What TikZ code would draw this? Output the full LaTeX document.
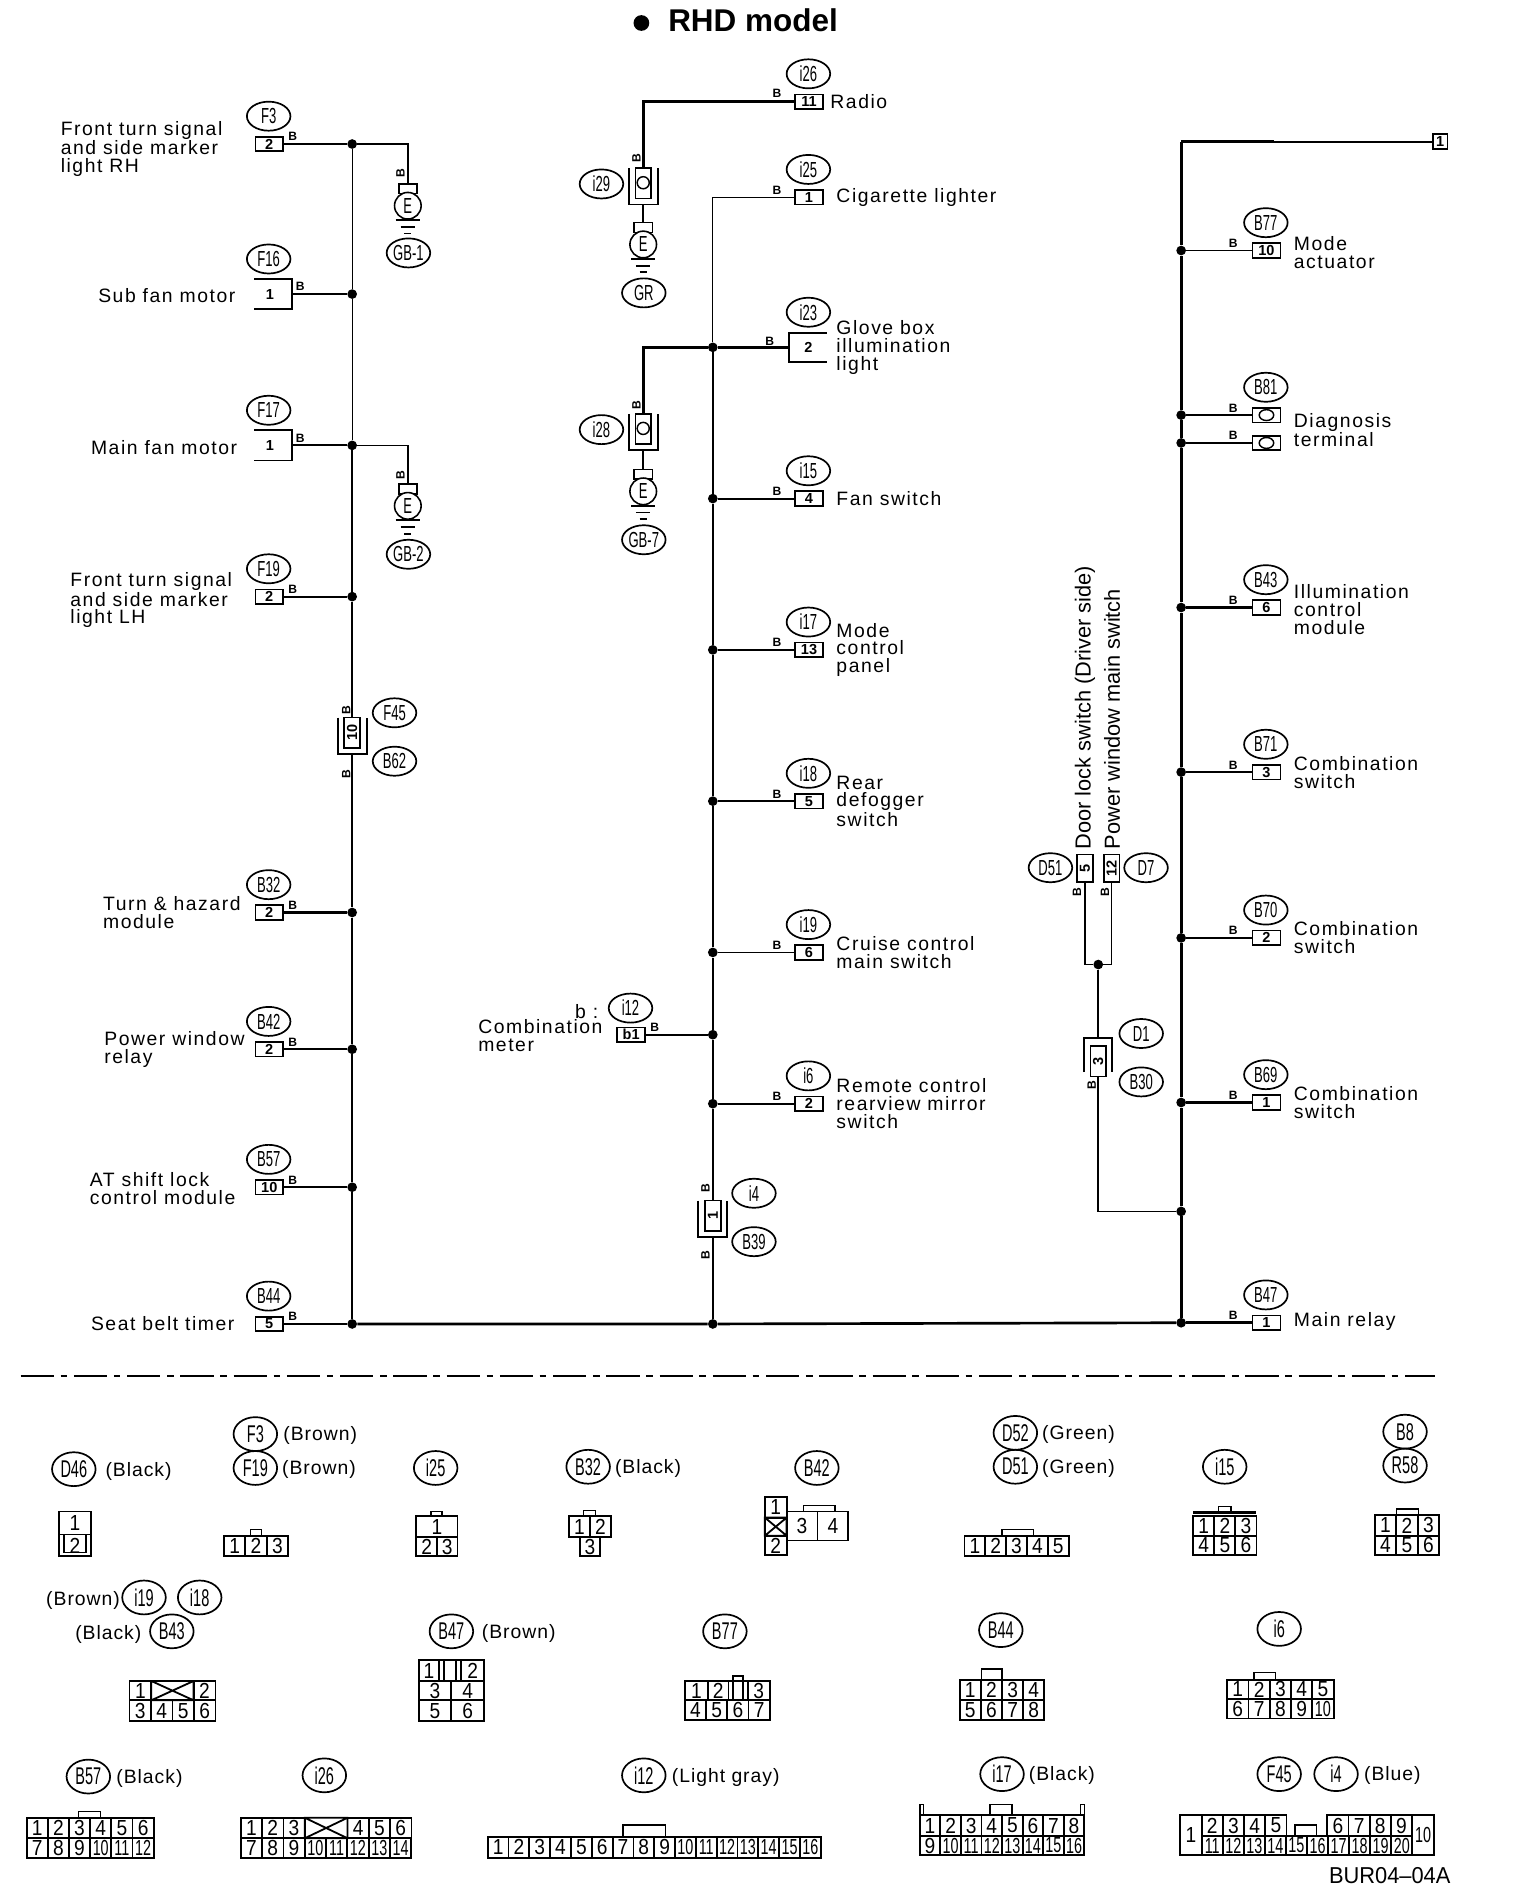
\documentclass[tikz,border=0pt]{standalone}
\usepackage{fontspec}
\usepackage{graphicx}
\usetikzlibrary{shapes.geometric}
\setmainfont{Liberation Sans}
\newfontfamily\lfam[LetterSpace=8]{Liberation Sans}
\newfontfamily\pfam[LetterSpace=5]{Liberation Sans}
\newcommand\lf{\lfam\fontsize{16}{14.7}\selectfont}
\newcommand\pf{\pfam\fontsize{16}{16}\selectfont}
\newcommand\nr[1]{\scalebox{.6}[1]{#1}}
\newcommand\dg[1]{\sbox0{#1}\ifdim\wd0>13pt \scalebox{.66}[1]{#1}\else\scalebox{.88}[1]{#1}\fi}
\newcounter{cc}
\newcounter{bb}
\tikzset{
  wb/.style={line width=2.6pt},
  wh/.style={line width=2.2pt},
  w/.style={line width=1.5pt},
  wt/.style={line width=1.1pt},
  dot/.style={circle,fill=black,inner sep=0pt,minimum size=8pt},
  oval/.style={ellipse,draw,line width=1.4pt,inner sep=0pt,minimum width=36pt,minimum height=24pt,font=\fontsize{18}{18}\selectfont},
  ovalc/.style={oval,minimum width=36pt,minimum height=28pt,font=\fontsize{20}{20}\selectfont},
  cbox/.style={rectangle,draw,line width=1.4pt,fill=white,inner sep=0pt,minimum width=23pt,minimum height=12pt,font=\bfseries\fontsize{12}{12}\selectfont},
  ibox/.style={rectangle,draw,line width=1.4pt,fill=white,inner sep=0pt,minimum width=13pt,minimum height=25pt,font=\bfseries\fontsize{12}{12}\selectfont},
  btxt/.style={inner sep=0pt,font=\bfseries\fontsize{12}{12}\selectfont},
  blab/.style={inner sep=0pt,font=\bfseries\fontsize{10}{10}\selectfont},
  lab/.style={inner sep=0pt,anchor=west,align=left,font=\lf,yshift=-1pt},
  plab/.style={inner sep=0pt,anchor=west,font=\pf,yshift=-1.5pt},
  rlab/.style={inner sep=0pt,anchor=west,rotate=90,font=\fontsize{18}{18}\selectfont},
  cellb/.style={line width=1.5pt},
  celltxt/.style={inner sep=0pt,font=\fontsize{18}{18}\selectfont},
}
% B wire-colour letter
\newcommand\Bl[2][0]{\stepcounter{bb}\node[blab,rotate=#1] (bl\thebb) at (#2) {B};}
% branch on left spine
\newcommand\brL[4]{%
  \node[dot] (d#1) at (291,#4) {};
  \node[cbox] (b#1) at (222.5,#4) {#3};
  \node[oval] (o#1) at (222,#4-23) {\nr{#2}};
  \Bl{242,#4-6}
  \draw[w] (d#1) -- (b#1);}
% open box on left spine
\newcommand\brLo[4]{%
  \node[dot] (d#1) at (291,#4) {};
  \coordinate (b#1) at (241,#4);
  \node[btxt] (bt#1) at (223,#4) {#3};
  \node[oval] (o#1) at (222,#4-29) {\nr{#2}};
  \Bl{248,#4-6}
  \draw[cellb] (210,#4-12.5) -- (241,#4-12.5) -- (241,#4+12.5) -- (210,#4+12.5);
  \draw[w] (d#1) -- (b#1);}
% branch on middle spine
\newcommand\brM[4]{%
  \node[dot] (d#1) at (589,#4) {};
  \node[cbox] (b#1) at (668.5,#4) {#3};
  \node[oval] (o#1) at (668,#4-23) {\nr{#2}};
  \Bl{642,#4-6}
  \draw[w] (d#1) -- (b#1);}
% branch on right spine
\newcommand\brR[3]{%
  \node[dot] (d#1) at (976,#3) {};
  \node[cbox] (b#1) at (1046.5,#3) {#2};
  \Bl{1019,#3-6}
  \draw[w] (d#1) -- (b#1);}
% in-line connector: U bracket open at top
\newcommand\inl[4]{%
  \node[ibox] (c#1) at (#2,#3+12.5) {\rotatebox{90}{#4}};
  \coordinate (u#1) at (#2,#3+30);
  \draw[cellb] (#2-12,#3) -- (#2-12,#3+30) -- (#2+12,#3+30) -- (#2+12,#3);}
% earth symbol
\newcommand\gnd[5]{%
  \node[rectangle,draw,line width=1.3pt,fill=white,inner sep=0pt,minimum width=15pt,minimum height=8pt] (t#1) at (#2,#3-14) {};
  \node[circle,draw,line width=1.3pt,fill=white,inner sep=0pt,minimum size=22pt,font=\fontsize{18}{18}\selectfont] (e#1) at (#2,#3) {\nr{E}};
  \draw[cellb] (#2-10,#3+12) -- (#2+10,#3+12) (#2-6,#3+17.5) -- (#2+6,#3+17.5) (#2-3,#3+23) -- (#2+3,#3+23);
  \node[oval] (g#1) at (#2+.5,#5) {\nr{#4}};}
% connector cells
\newcommand\cell[5]{\stepcounter{cc}\draw[cellb] (#1,#2) rectangle (#3,#4);
  \node[celltxt] (c\thecc) at ({(#1+#3)/2},{(#2+#4)/2}) {\dg{#5}};}
\newcommand\xcell[4]{\draw[cellb] (#1,#2) rectangle (#3,#4) (#1,#2) -- (#3,#4) (#1,#4) -- (#3,#2);}
\newcommand\cellrow[5]{\foreach \t [count=\i from 0] in {#5} {\cell{#1+\i*#4}{#2}{#1+\i*#4+#4}{#3}{\t}}}
\newcommand\tab[4]{\draw[line width=1.3pt] (#1,#3) -- (#1,#4) -- (#2,#4) -- (#2,#3);}
\newcommand\ol[3]{\node[ovalc] (lo#1) at (#2) {\nr{#3}};}
\begin{document}
\begin{tikzpicture}[x=1pt,y=-1pt]
\useasboundingbox (0,0) rectangle (1256,1566.7);
\fill[white] (0,0) rectangle (1256,1566.7);
% title
\node[circle,fill=black,inner sep=0pt,minimum size=13pt] (tdot) at (530,19) {};
\node[inner sep=0pt,anchor=west,font=\bfseries\fontsize{26}{26}\selectfont] (title) at (552,16.5) {RHD model};

% LEFT COLUMN
\brL{F3}{F3}{2}{119}
\brLo{F16}{F16}{1}{243}
\brLo{F17}{F17}{1}{368}
\brL{F19}{F19}{2}{493}
\brL{B32}{B32}{2}{754}
\brL{B42}{B42}{2}{867}
\brL{B57}{B57}{10}{981}
\brL{B44}{B44}{5}{1094}
\draw[wh] (dB32) -- (bB32);
\node[lab] (tF3) at (50,122) {Front turn signal\\and side marker\\light RH};
\node[lab] (tF16) at (81,243) {Sub fan motor};
\node[lab] (tF17) at (75,369) {Main fan motor};
\node[lab] (tF19) at (58,495) {Front turn signal\\and side marker\\light LH};
\node[lab] (tB32) at (85,753) {Turn \& hazard\\module};
\node[lab] (tB42) at (86,866) {Power window\\relay};
\node[lab] (tB57) at (74,981) {AT shift lock\\control module};
\node[lab] (tB44) at (75,1093) {Seat belt timer};
\inl{F45}{291}{593}{10}
\Bl[90]{286,587}
\Bl[90]{286,640}
\node[oval] (oF45) at (326,589) {\nr{F45}};
\node[oval] (oB62) at (326,629) {\nr{B62}};
\draw[wt] (dF3) -- (dF16) -- (dF17);
\draw[w] (dF17) -- (dF19) -- (cF45.north);
\draw[w] (uF45) -- (dB32) -- (dB42) -- (dB57) -- (dB44);
% earths GB-1, GB-2
\gnd{1}{337}{170}{GB-1}{209}
\gnd{2}{337}{418}{GB-2}{458}
\Bl[90]{331,143}
\Bl[90]{331,393}
\draw[w] (dF3) -| (t1.north);
\draw[wt] (dF17) -| (t2.north);

% MIDDLE COLUMN
\coordinate (ci25) at (589,163);
\node[cbox] (bi25) at (668.5,163) {1};
\node[oval] (oi25) at (668,140) {\nr{i25}};
\Bl{642,157}
\draw[wt] (ci25) -- (bi25);
\node[dot] (di23) at (589,287) {};
\node[btxt] (bti23) at (668,287) {2};
\coordinate (bi23) at (652,287);
\node[oval] (oi23) at (668,258) {\nr{i23}};
\draw[cellb] (683,275) -- (652,275) -- (652,299) -- (683,299);
\draw[wh] (di23) -- (bi23);
\Bl{636,282}
\brM{i15}{i15}{4}{412}
\brM{i17}{i17}{13}{537}
\brM{i18}{i18}{5}{662}
\brM{i19}{i19}{6}{787}
\brM{i6}{i6}{2}{912}
\draw[wh] (di17) -- (bi17);
\node[dot] (di12) at (589,855) {};
\node[dot] (dMB) at (589,1094) {};
\node[cbox] (bi12) at (521.5,855) {b1};
\node[oval] (oi12) at (521,833) {\nr{i12}};
\Bl{541,849}
\draw[w] (di12) -- (bi12);
\node[plab,font=\lf] (tb) at (475,834) {b :};
\node[lab] (ti12) at (395,855) {Combination\\meter};
\inl{i4}{589}{992}{1}
\Bl[90]{583,982}
\Bl[90]{583,1037}
\node[oval] (oi4) at (623,986) {\nr{i4}};
\node[oval] (oB39) at (623,1026) {\nr{B39}};
\draw[wt] (ci25) -- (di23);
\draw[w] (di23) -- (di15) -- (di17) -- (di18) -- (di19) -- (di12) -- (di6) -- (ci4.north);
\draw[w] (ui4) -- (dMB);
\node[lab] (ti25) at (691,162) {Cigarette lighter};
\node[lab] (ti23) at (691,286) {Glove box\\illumination\\light};
\node[lab] (ti15) at (691,411) {Fan switch};
\node[lab] (ti17) at (691,536) {Mode\\control\\panel};
\node[lab] (ti18) at (691,661) {Rear\\defogger\\switch};
\node[lab] (ti19) at (691,786) {Cruise control\\main switch};
\node[lab] (ti6) at (691,911) {Remote control\\rearview mirror\\switch};
% i26 / i29 / GR
\node[cbox] (bi26) at (668.5,84) {11};
\node[oval] (oi26) at (668,61) {\nr{i26}};
\Bl{642,77}
\node[lab] (ti26) at (686,83) {Radio};
\inl{i29}{531.5}{139}{}
\draw[line width=1.2pt] (531.5,151) ellipse (5 and 5);
\Bl[90]{526,131}
\node[oval] (oi29) at (497,152) {\nr{i29}};
\gnd{3}{531.5}{202}{GR}{242}
\draw[wh] (bi26) -| (ci29.north);
\draw[w] (ui29) -- (t3.north);
% i28 / GB-7
\inl{i28}{531.5}{342}{}
\draw[line width=1.2pt] (531.5,354) ellipse (5 and 5);
\Bl[90]{526,335}
\node[oval] (oi28) at (497,355) {\nr{i28}};
\gnd{4}{531.5}{406}{GB-7}{446}
\draw[wh] (di23) -| (ci28.north);
\draw[w] (ui28) -- (t4.north);

% RIGHT COLUMN
\brR{B77}{10}{207}
\brR{B81}{}{343}
\brR{B81b}{}{366}
\brR{B43}{6}{502}
\brR{B71}{3}{638}
\brR{B70}{2}{775}
\brR{B69}{1}{911}
\brR{B47}{1}{1093}
\draw[wh] (dB43) -- (bB43) (dB69) -- (bB69) (dB47) -- (bB47);
\node[oval] (oB77) at (1046,184) {\nr{B77}};
\node[oval] (oB81) at (1046,320) {\nr{B81}};
\node[oval] (oB43) at (1046,479) {\nr{B43}};
\node[oval] (oB71) at (1046,615) {\nr{B71}};
\node[oval] (oB70) at (1046,752) {\nr{B70}};
\node[oval] (oB69) at (1046,888) {\nr{B69}};
\node[oval] (oB47) at (1046,1070) {\nr{B47}};
\draw[line width=1.2pt] (1046.5,343) ellipse (6 and 4.5) (1046.5,366) ellipse (6 and 4.5);
\node[cbox,minimum width=12pt] (b1) at (1190,117) {1};
\coordinate (ctop) at (976,117);
\coordinate (cthick) at (1053,117);
\node[dot] (dRB) at (976,1001) {};
\draw[wb] (ctop) -- (dB77) -- (dB81) -- (dB81b) -- (dB43) -- (dB71) -- (dB70) -- (dB69) -- (dRB) -- (dB47);
\draw[w] (ctop) -- (b1);
\draw[wh] (ctop) -- (cthick);
\node[lab] (tB77) at (1069,207.5) {Mode\\actuator};
\node[lab] (tB81) at (1069,354.5) {Diagnosis\\terminal};
\node[lab] (tB43) at (1069,502.5) {Illumination\\control\\module};
\node[lab] (tB71) at (1069,637.5) {Combination\\switch};
\node[lab] (tB70) at (1069,774) {Combination\\switch};
\node[lab] (tB69) at (1069,910) {Combination\\switch};
\node[lab] (tB47) at (1069,1091) {Main relay};
% bus
\draw[wh] (dB44) -- (dMB) -- (dB47);

% door lock / power window
\node[ibox,minimum width=13pt,minimum height=23pt] (c5) at (896.5,717.5) {\rotatebox{90}{5}};
\node[ibox,minimum width=13pt,minimum height=23pt] (c7) at (918.5,717.5) {\rotatebox{90}{12}};
\node[oval] (oD51) at (868,717) {\nr{D51}};
\node[oval] (oD7) at (947,717) {\nr{D7}};
\node[rlab] (tdl) at (896.5,702) {Door lock switch (Driver side)};
\node[rlab] (tpw) at (919,702) {Power window main switch};
\Bl[90]{890,737}
\Bl[90]{913,737}
\node[dot] (dj) at (907.5,797) {};
\draw[w] (c5.south) |- (dj);
\draw[w] (c7.south) |- (dj);
\node[ibox,minimum width=13pt,minimum height=25pt] (cD1) at (907.5,877) {\rotatebox{90}{3}};
\draw[cellb] (896,886) -- (896,858) -- (919,858) -- (919,886);
\coordinate (uD1) at (907.5,858);
\draw[w] (dj) -- (uD1);
\Bl[90]{902,897}
\node[oval] (oD1) at (943,854) {\nr{D1}};
\node[oval] (oB30) at (943,894) {\nr{B30}};
\draw[w] (cD1.south) |- (dRB);

% divider
\coordinate (da) at (17,1137);
\coordinate (db) at (1186,1137);
\draw[line width=1.3pt,dash pattern=on 27.5pt off 5.5pt on 5.5pt off 5.5pt] (da) -- (db);

% CONNECTOR LEGEND, ROW 1
\ol{1}{61,1214}{D46}\node[plab] (p1) at (87,1214) {(Black)};
\ol{2}{211,1185}{F3}\node[plab] (p2) at (234,1185) {(Brown)};
\ol{3}{211,1213}{F19}\node[plab] (p3) at (233,1213) {(Brown)};
\ol{4}{360,1213}{i25}
\ol{5}{486,1212}{B32}\node[plab] (p5) at (508,1212) {(Black)};
\ol{6}{675,1213}{B42}
\ol{7}{839,1184}{D52}\node[plab] (p7) at (861,1184) {(Green)};
\ol{8}{839,1212}{D51}\node[plab] (p8) at (861,1212) {(Green)};
\ol{9}{1012,1212}{i15}
\ol{10}{1161,1183}{B8}
\ol{11}{1161,1211}{R58}
% D46
\cell{49}{1249}{75}{1268}{1}
\cell{49}{1268}{75}{1286}{2}
\draw[line width=1.1pt] (53,1268) -- (53,1283) -- (71,1283) -- (71,1268);
% F3
\cellrow{185}{1269}{1286}{17.7}{1,2,3}
\tab{207}{216}{1269}{1264}
% i25
\cell{344}{1253}{378}{1270}{1}
\cellrow{344}{1270}{1286}{17}{2,3}
\tab{356}{365}{1253}{1249}
% B32
\cellrow{470}{1253}{1270}{17.5}{1,2}
\cell{479}{1270}{496}{1286}{3}
\tab{482}{492}{1253}{1248}
% B42
\cell{632}{1237}{650}{1254}{1}
\xcell{632}{1254}{650}{1269}
\cell{632}{1269}{650}{1285}{2}
\cellrow{650}{1249}{1273}{25.5}{3,4}
\tab{664}{690}{1249}{1244}
% D51
\cellrow{797}{1269}{1286}{17.2}{1,2,3,4,5}
\tab{828}{854}{1269}{1264}
% i15
\cellrow{986}{1253}{1269}{17.4}{1,2,3}
\cellrow{986}{1269}{1285}{17.4}{4,5,6}
\draw[line width=2.5pt] (986,1250) -- (1038,1250);
\tab{1007}{1017}{1249}{1245}
% B8
\cellrow{1136}{1252}{1269}{17.7}{1,2,3}
\cellrow{1136}{1269}{1285}{17.7}{4,5,6}
\tab{1154}{1172}{1252}{1247}

% ROW 2
\node[plab] (p12) at (38,1321) {(Brown)};
\ol{12}{119,1320}{i19}
\ol{13}{165,1320}{i18}
\node[plab] (p14) at (62,1349) {(Black)};
\ol{14}{142,1348}{B43}
\ol{15}{373,1348}{B47}\node[plab] (p15) at (398,1348) {(Brown)};
\ol{16}{599,1348}{B77}
\ol{17}{827,1347}{B44}
\ol{18}{1057,1346}{i6}
% B43
\cell{107}{1389}{125}{1405}{1}
\xcell{125}{1389}{160}{1405}
\cell{160}{1389}{178}{1405}{2}
\cellrow{107}{1405}{1422}{17.75}{3,4,5,6}
% B47
\cell{346}{1372}{363}{1389}{1}
\draw[cellb] (367,1372) rectangle (377,1389);
\cell{381}{1372}{400}{1389}{2}
\draw[cellb] (346,1372) rectangle (400,1389);
\cellrow{346}{1389}{1405}{27}{3,4}
\cellrow{346}{1405}{1422}{27}{5,6}
% B77
\cell{566}{1389}{585}{1405}{1}
\cell{585}{1389}{602}{1405}{2}
\draw[cellb] (606,1385) rectangle (614,1405);
\cell{618}{1389}{636}{1405}{3}
\draw[cellb] (566,1389) rectangle (636,1405);
\cellrow{566}{1405}{1421}{17.5}{4,5,6,7}
% B44
\cellrow{793}{1388}{1405}{17.5}{1,2,3,4}
\cellrow{793}{1405}{1421}{17.5}{5,6,7,8}
\tab{811}{828}{1388}{1379}
% i6
\cellrow{1014}{1388}{1404}{17.6}{1,2,3,4,5}
\cellrow{1014}{1404}{1420}{17.6}{6,7,8,9,10}
\tab{1036}{1054}{1388}{1382}

% ROW 3
\ol{19}{73,1468}{B57}\node[plab] (p19) at (96,1468) {(Black)};
\ol{20}{268,1467}{i26}
\ol{21}{532,1467}{i12}\node[plab] (p21) at (555,1467) {(Light gray)};
\ol{22}{828,1466}{i17}\node[plab] (p22) at (850,1466) {(Black)};
\ol{23}{1057,1466}{F45}
\ol{24}{1104,1466}{i4}\node[plab] (p24) at (1127,1466) {(Blue)};
% B57
\cellrow{22}{1502}{1519}{17.5}{1,2,3,4,5,6}
\cellrow{22}{1519}{1535}{17.5}{7,8,9,10,11,12}
\tab{65}{83}{1502}{1497}
% i26
\cellrow{199}{1502}{1519}{17.6}{1,2,3}
\xcell{251.8}{1502}{287.2}{1519}
\cellrow{287.2}{1502}{1519}{17.6}{4,5,6}
\cellrow{199}{1519}{1535}{17.6}{7,8,9,10,11,12,13,14}
% i12
\cellrow{403}{1518}{1535}{17.2}{1,2,3,4,5,6,7,8,9,10,11,12,13,14,15,16}
\tab{515}{550}{1518}{1508}
% i17
\cellrow{760}{1500}{1517}{17}{1,2,3,4,5,6,7,8}
\cellrow{760}{1517}{1533}{17}{9,10,11,12,13,14,15,16}
\tab{818}{836}{1500}{1491}
\tab{760}{763}{1500}{1491}
\tab{893}{896}{1500}{1491}
% F45
\cell{975}{1500}{993}{1533}{1}
\cellrow{993}{1500}{1517}{17.5}{2,3,4,5}
\cellrow{1096.8}{1500}{1517}{17.5}{6,7,8,9}
\cell{1167}{1500}{1185}{1533}{10}
\cellrow{993}{1517}{1533}{17.4}{11,12,13,14,15,16,17,18,19,20}
\tab{1070}{1088}{1517}{1508}
\node[inner sep=0pt,anchor=west,font=\fontsize{19}{19}\selectfont] (code) at (1098,1550) {\scalebox{.95}[1]{BUR04--04A}};
\end{tikzpicture}
\end{document}
